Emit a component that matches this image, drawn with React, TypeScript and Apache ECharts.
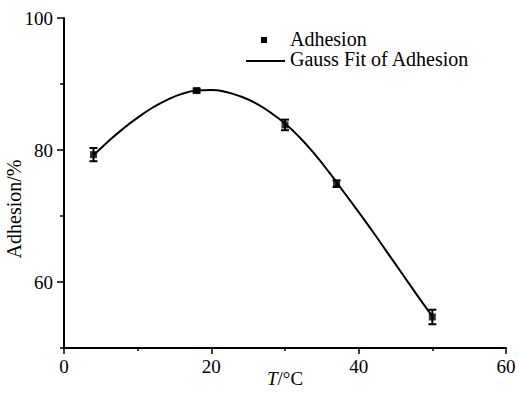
import React, { useEffect, useRef } from "react";
import * as echarts from "echarts";

const temperatures = [4, 18, 30, 37, 50];
const adhesion = [79.3, 89.0, 83.8, 74.9, 54.7];
const adhesionErr = [1.0, 0.3, 0.8, 0.5, 1.1];

const fitX = [4, 6, 8, 10, 12, 14, 16, 18, 20, 22, 24, 26, 28, 30, 32, 34, 36, 38, 40, 42, 44, 46, 48, 50];
const fitY = [79.2, 81.3, 83.2, 84.9, 86.4, 87.6, 88.5, 89.0, 89.1, 88.8, 88.1, 87.1, 85.7, 84.0, 81.9, 79.4, 76.6, 73.6, 70.6, 67.5, 64.3, 61.1, 57.9, 54.8];

const xMajorTicks = [0, 20, 40, 60];
const xMinorTicks = [10, 30, 50];
const yMajorTicks = [60, 80, 100];
const yMinorTicks = [50, 70, 90];

const FONT = "'Liberation Serif', 'Times New Roman', serif";

export default function App() {
  const ref = useRef<HTMLDivElement>(null);
  useEffect(() => {
    if (!ref.current) return;
    const chart = echarts.init(ref.current, null, { renderer: "svg" });
    const black = "#000";
    const option: any = {
      animation: false,
      backgroundColor: "#fff",
      textStyle: { fontFamily: FONT, color: black },
      grid: { left: 64, right: 13, top: 18, bottom: 49, containLabel: false, outerBoundsMode: "none" },
      xAxis: [
        {
          type: "value",
          min: 0,
          max: 60,
          interval: 10,
          position: "bottom",
          name: "{i|T}/°C",
          nameLocation: "middle",
          nameGap: 21,
          nameMoveOverlap: false,
          nameTextStyle: {
            fontFamily: FONT,
            fontSize: 19,
            color: black,
            rich: { i: { fontFamily: FONT, fontSize: 19, fontStyle: "italic", color: black } },
          },
          axisLine: { show: true, lineStyle: { color: black, width: 2 } },
          axisTick: { show: true, length: 6, customValues: xMajorTicks, lineStyle: { color: black, width: 1.5 } },
          axisLabel: { customValues: xMajorTicks, margin: 9, fontFamily: FONT, fontSize: 19, color: black },
          splitLine: { show: false },
        },
        {
          type: "value",
          min: 0,
          max: 60,
          interval: 10,
          position: "bottom",
          axisLine: { show: false },
          axisTick: { show: true, length: 3, customValues: xMinorTicks, lineStyle: { color: black, width: 1.5 } },
          axisLabel: { show: false },
          splitLine: { show: false },
        },
      ],
      yAxis: [
        {
          type: "value",
          min: 50,
          max: 100,
          interval: 10,
          position: "left",
          name: "Adhesion/%",
          nameLocation: "middle",
          nameGap: 40,
          nameMoveOverlap: false,
          nameTextStyle: { fontFamily: FONT, fontSize: 20, color: black, padding: [0, 52, 0, 0] },
          axisLine: { show: true, lineStyle: { color: black, width: 2 } },
          axisTick: { show: true, length: 7, customValues: yMajorTicks, lineStyle: { color: black, width: 1.5 } },
          axisLabel: { customValues: yMajorTicks, margin: 11, fontFamily: FONT, fontSize: 19, color: black },
          splitLine: { show: false },
        },
        {
          type: "value",
          min: 50,
          max: 100,
          interval: 10,
          position: "left",
          axisLine: { show: false },
          axisTick: { show: true, length: 4, customValues: yMinorTicks, lineStyle: { color: black, width: 1.5 } },
          axisLabel: { show: false },
          splitLine: { show: false },
        },
      ],
      series: [
        {
          name: "Gauss Fit of Adhesion",
          type: "line",
          data: fitX.map((x, i) => [x, fitY[i]]),
          smooth: true,
          showSymbol: false,
          lineStyle: { color: black, width: 2 },
          z: 2,
        },
        {
          name: "Adhesion error",
          type: "custom",
          data: temperatures.map((x, i) => [x, adhesion[i], adhesionErr[i]]),
          renderItem: (params: any, api: any) => {
            const x = api.value(0);
            const y = api.value(1);
            const e = api.value(2);
            const top = api.coord([x, y + e]);
            const bot = api.coord([x, y - e]);
            const hw = 4;
            const style = { stroke: black, lineWidth: 2 };
            return {
              type: "group",
              children: [
                { type: "line", shape: { x1: top[0], y1: top[1], x2: bot[0], y2: bot[1] }, style },
                { type: "line", shape: { x1: top[0] - hw, y1: top[1], x2: top[0] + hw, y2: top[1] }, style },
                { type: "line", shape: { x1: bot[0] - hw, y1: bot[1], x2: bot[0] + hw, y2: bot[1] }, style },
              ],
            };
          },
          z: 3,
        },
        {
          name: "Adhesion",
          type: "scatter",
          data: temperatures.map((x, i) => [x, adhesion[i]]),
          symbol: "rect",
          symbolSize: 7,
          itemStyle: { color: black },
          z: 4,
        },
      ],
      graphic: [
        { type: "rect", shape: { x: 261, y: 37, width: 6, height: 6 }, style: { fill: black } },
        {
          type: "text",
          x: 290,
          y: 39,
          style: { text: "Adhesion", fontFamily: FONT, fontSize: 20, fill: black, verticalAlign: "middle", align: "left" },
        },
        { type: "line", shape: { x1: 246, y1: 61, x2: 285, y2: 61 }, style: { stroke: black, lineWidth: 2 } },
        {
          type: "text",
          x: 290,
          y: 59,
          style: { text: "Gauss Fit of Adhesion", fontFamily: FONT, fontSize: 20, fill: black, verticalAlign: "middle", align: "left" },
        },
      ],
    };
    chart.setOption(option);
    return () => chart.dispose();
  }, []);
  return <div ref={ref} style={{ width: 519, height: 397, position: "absolute", left: 0, top: 0 }} />;
}
